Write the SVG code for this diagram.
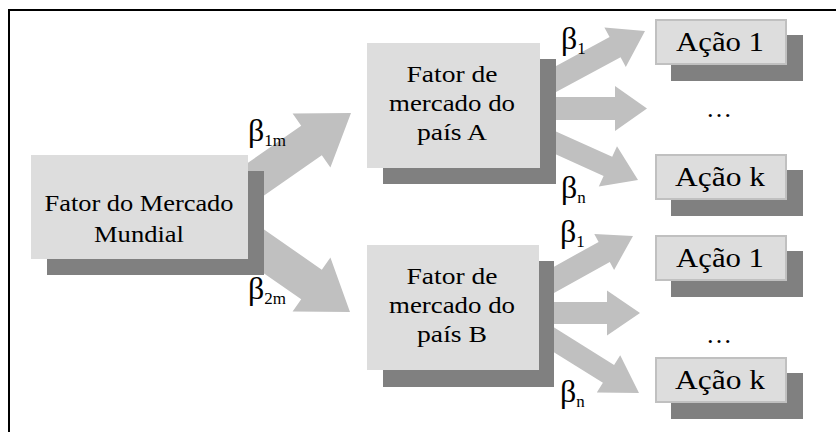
<svg xmlns="http://www.w3.org/2000/svg" width="836" height="432" viewBox="0 0 836 432">
<style>
.arrow{fill:#c0c0c0}
.shadow{fill:#808080}
.box{fill:#dddddd}
.abox{fill:#dddddd;stroke:#c0c0c0;stroke-width:2}
</style>
<rect x="0" y="0" width="836" height="432" fill="#fff"/>
<path d="M9,432 V10 H836" fill="none" stroke="#000" stroke-width="2"/>
<g id="connectors">
<polygon class="arrow" points="252,203.9 321.8,155.3 330.4,167.6 351,113 292.6,113.4 301.2,125.7 231.4,174.3"/>
<polygon class="arrow" points="252,221.1 321.8,269.7 330.4,257.4 350,312 292.6,311.6 301.2,299.3 231.4,250.7"/>
<polygon class="arrow" points="550.5,95.1 620.6,57.3 625.8,67 645,31 604.4,27.4 609.6,37.1 539.5,74.9"/>
<polygon class="arrow" points="545,97 615,97 615,86 647,108.5 615,131 615,120 545,120"/>
<polygon class="arrow" points="540.7,147.6 603.6,176 598.8,186.5 638,180 617,146.3 612.2,156.8 549.3,128.4"/>
<polygon class="arrow" points="548.6,296.1 609.8,262.1 614.1,269.9 633,236 594.3,234.1 598.6,241.9 537.4,275.9"/>
<polygon class="arrow" points="543,302 607,302 607,290.5 640,313 607,335.5 607,324 543,324"/>
<polygon class="arrow" points="537.4,341.9 602.9,382.8 596.8,392.6 639,393 620.2,355.2 614.1,365 548.6,324.1"/>
</g>
<g id="labels" fill="#000" font-family="'Liberation Serif', serif" font-size="32">
<text x="248" y="141">β<tspan font-size="17" dy="5">1m</tspan></text>
<text x="248" y="299">β<tspan font-size="17" dy="5">2m</tspan></text>
<text x="561" y="49">β<tspan font-size="17" dy="5">1</tspan></text>
<text x="561" y="198">β<tspan font-size="17" dy="5">n</tspan></text>
<text x="560" y="242">β<tspan font-size="17" dy="5">1</tspan></text>
<text x="560" y="402">β<tspan font-size="17" dy="5">n</tspan></text>
</g>
<g id="mercado-mundial" font-family="'Liberation Serif', serif" font-size="24" text-anchor="middle">
<rect class="shadow" x="47" y="171" width="217" height="104"/>
<rect class="box" x="31" y="155" width="217" height="104"/>
<text x="139" y="210.7" textLength="189" lengthAdjust="spacingAndGlyphs">Fator do Mercado</text>
<text x="139" y="242" textLength="90" lengthAdjust="spacingAndGlyphs">Mundial</text>
</g>
<g id="pais-a" font-family="'Liberation Serif', serif" font-size="24" text-anchor="middle">
<rect class="shadow" x="383" y="59" width="173" height="125"/>
<rect class="box" x="367" y="43" width="173" height="125"/>
<text x="452" y="81.7" textLength="91" lengthAdjust="spacingAndGlyphs">Fator de</text>
<text x="452" y="110.7" textLength="126" lengthAdjust="spacingAndGlyphs">mercado do</text>
<text x="452" y="139.7" textLength="70" lengthAdjust="spacingAndGlyphs">país A</text>
</g>
<g id="pais-b" font-family="'Liberation Serif', serif" font-size="24" text-anchor="middle">
<rect class="shadow" x="383" y="261" width="171" height="126"/>
<rect class="box" x="367" y="245" width="172" height="125"/>
<text x="452" y="284.3" textLength="91" lengthAdjust="spacingAndGlyphs">Fator de</text>
<text x="452" y="313.3" textLength="126" lengthAdjust="spacingAndGlyphs">mercado do</text>
<text x="452" y="342.3" textLength="70" lengthAdjust="spacingAndGlyphs">país B</text>
</g>
<g id="acao-1-a" font-family="'Liberation Serif', serif" font-size="28" text-anchor="middle">
<rect class="shadow" x="671" y="35" width="132" height="46"/>
<rect class="abox" x="656" y="20" width="130" height="44"/>
<text x="720" y="51" textLength="88" lengthAdjust="spacingAndGlyphs">Ação 1</text>
</g>
<g id="ellipsis-a" font-family="'Liberation Serif', serif" font-size="26" text-anchor="middle">
<text x="719" y="117">…</text>
</g>
<g id="acao-k-a" font-family="'Liberation Serif', serif" font-size="28" text-anchor="middle">
<rect class="shadow" x="671" y="170" width="132" height="46"/>
<rect class="abox" x="656" y="155" width="130" height="44"/>
<text x="720" y="186" textLength="90" lengthAdjust="spacingAndGlyphs">Ação k</text>
</g>
<g id="acao-1-b" font-family="'Liberation Serif', serif" font-size="28" text-anchor="middle">
<rect class="shadow" x="671" y="251" width="132" height="46"/>
<rect class="abox" x="656" y="236" width="130" height="44"/>
<text x="720" y="267" textLength="88" lengthAdjust="spacingAndGlyphs">Ação 1</text>
</g>
<g id="ellipsis-b" font-family="'Liberation Serif', serif" font-size="26" text-anchor="middle">
<text x="719" y="343">…</text>
</g>
<g id="acao-k-b" font-family="'Liberation Serif', serif" font-size="28" text-anchor="middle">
<rect class="shadow" x="671" y="373" width="132" height="46"/>
<rect class="abox" x="656" y="358" width="130" height="44"/>
<text x="720" y="389" textLength="90" lengthAdjust="spacingAndGlyphs">Ação k</text>
</g>
</svg>
